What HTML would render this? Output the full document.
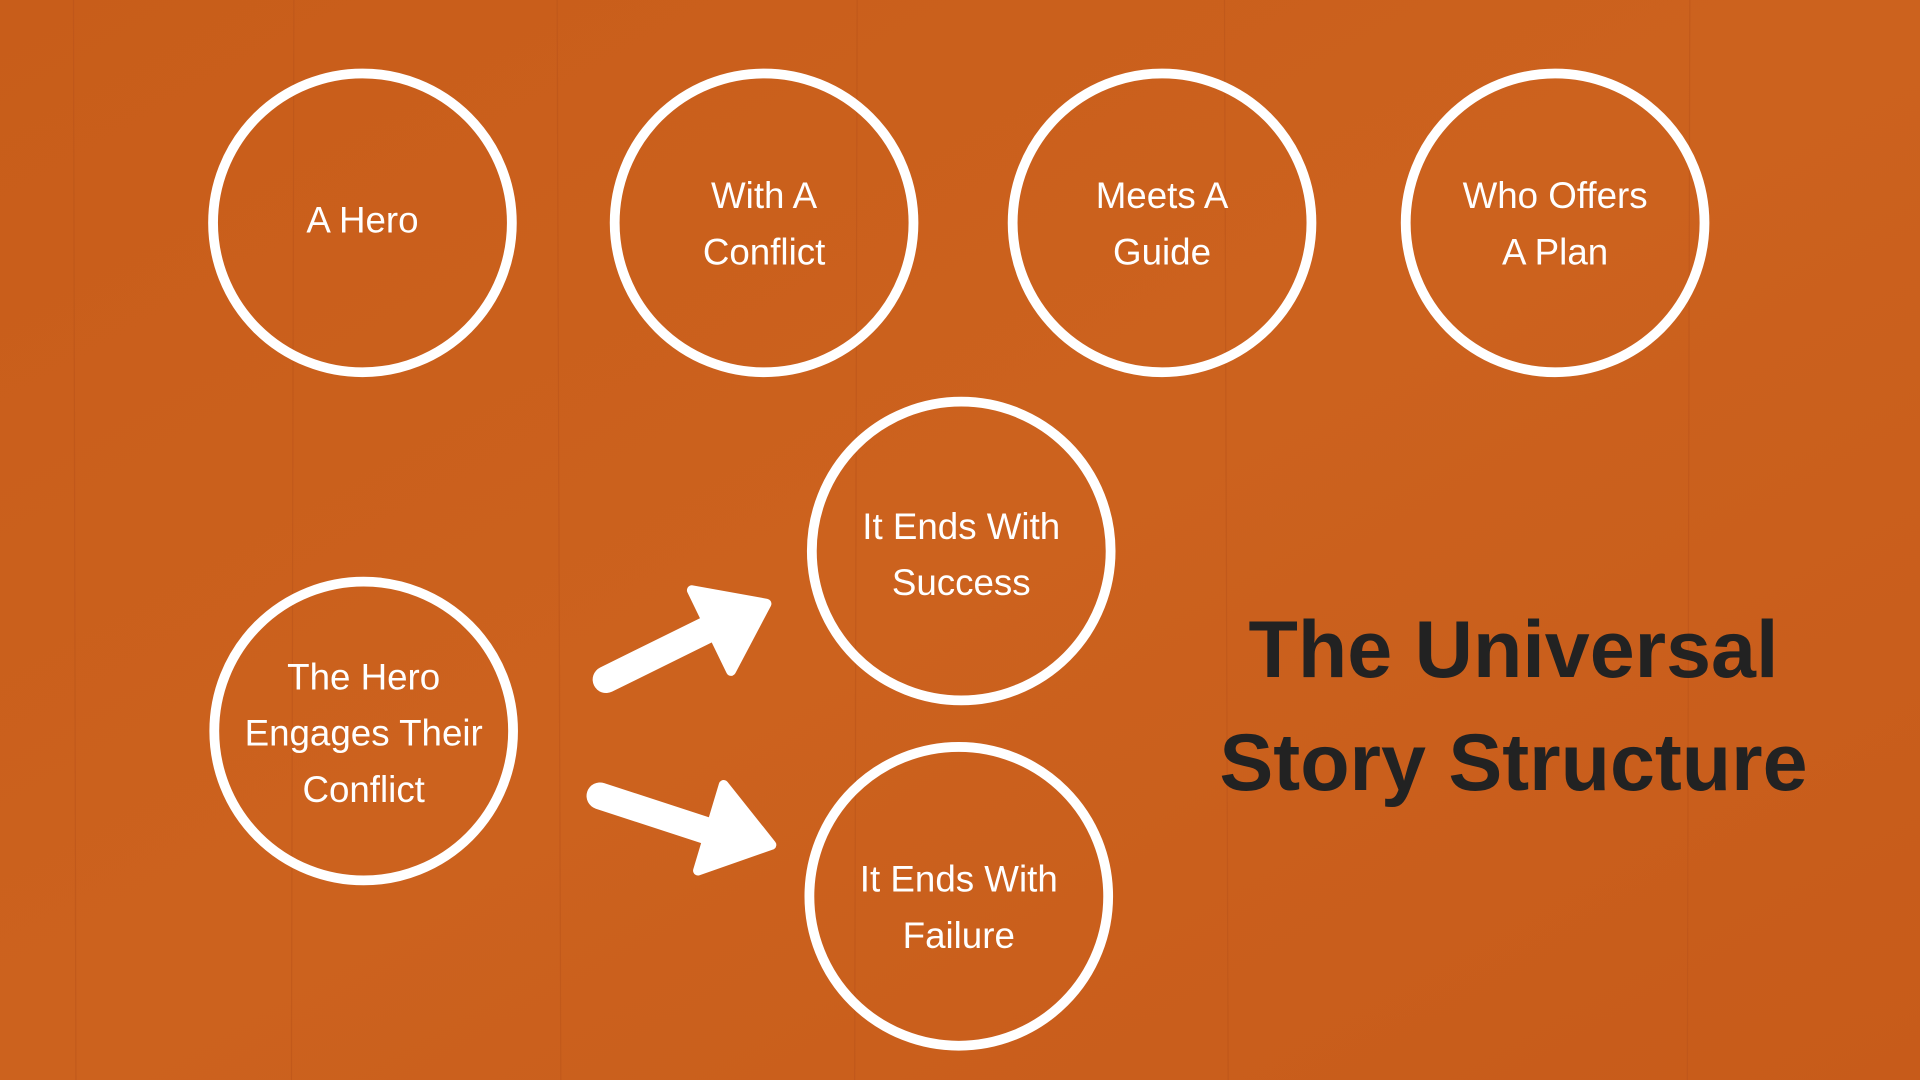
<!DOCTYPE html>
<html><head><meta charset="utf-8">
<style>
html,body{margin:0;padding:0;width:1920px;height:1080px;overflow:hidden;background:#c9601c;}
svg{display:block;}
text{font-family:"Liberation Sans",sans-serif;}
</style></head>
<body>
<svg width="1920" height="1080" viewBox="0 0 1568 882" xmlns="http://www.w3.org/2000/svg">
<defs>
<linearGradient id="bg" x1="0" y1="0" x2="1" y2="1">
<stop offset="0" stop-color="#c85d1a"/>
<stop offset="0.5" stop-color="#cc621e"/>
<stop offset="1" stop-color="#c75b1a"/>
</linearGradient>
</defs>
<rect width="1568" height="882" fill="url(#bg)"/>
<g stroke="#b9531a" stroke-width="1" opacity="0.5">
<line x1="60" y1="0" x2="62" y2="882"/><line x1="240" y1="0" x2="238" y2="882"/>
<line x1="455" y1="0" x2="458" y2="882"/><line x1="700" y1="0" x2="698" y2="882"/>
<line x1="1000" y1="0" x2="1003" y2="882"/><line x1="1380" y1="0" x2="1378" y2="882"/>
</g>
<g fill="none" stroke="#fff" stroke-width="8">
<circle cx="296" cy="182" r="122"/>
<circle cx="624" cy="182" r="122"/>
<circle cx="949" cy="182" r="122"/>
<circle cx="1270" cy="182" r="122"/>
<circle cx="785" cy="450" r="122"/>
<circle cx="297" cy="597" r="122"/>
<circle cx="783" cy="732" r="122"/>
</g>
<g fill="#fff" font-size="30" text-anchor="middle">
<text x="296" y="190">A Hero</text>
<text x="624" y="170">With A</text><text x="624" y="216">Conflict</text>
<text x="949" y="170">Meets A</text><text x="949" y="216">Guide</text>
<text x="1270" y="170">Who Offers</text><text x="1270" y="216">A Plan</text>
<text x="785" y="440">It Ends With</text><text x="785" y="486">Success</text>
<text x="297" y="563">The Hero</text><text x="297" y="609">Engages Their</text><text x="297" y="655">Conflict</text>
<text x="783" y="728">It Ends With</text><text x="783" y="774">Failure</text>
</g>
<g fill="#fff" stroke="#fff" stroke-linejoin="round" stroke-linecap="round">
<line x1="495" y1="555" x2="580" y2="513" stroke-width="22"/>
<polygon points="565,482 626,493 597,548" stroke-width="8"/>
<line x1="490" y1="650" x2="582" y2="680" stroke-width="22"/>
<polygon points="591,641 630,690 570,711" stroke-width="8"/>
</g>
<g fill="#222" font-size="66" font-weight="bold" text-anchor="middle">
<text x="1236" y="553">The Universal</text>
<text x="1236" y="645">Story Structure</text>
</g>
</svg>
</body></html>
